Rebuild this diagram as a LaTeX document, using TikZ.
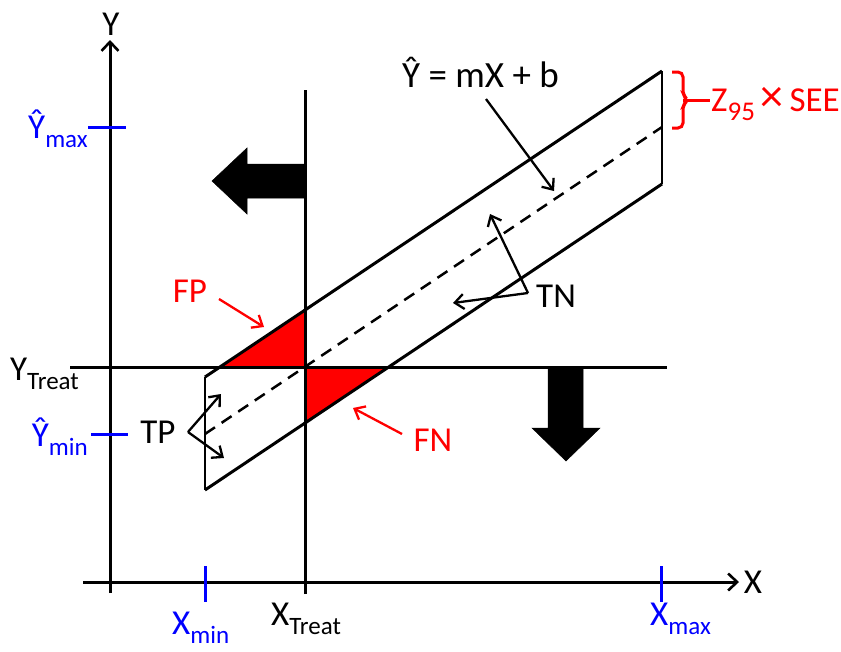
\documentclass[tikz,border=0pt]{standalone}
\usepackage{fontspec}
\setmainfont{Carlito}
\usetikzlibrary{arrows.meta}
\newcommand\lowsub[1]{\raisebox{-0.28em}{\fontsize{25}{25}\selectfont #1}}
\definecolor{pblue}{RGB}{0,0,255}
\definecolor{pred}{RGB}{255,0,0}
\begin{document}
\begin{tikzpicture}[x=1pt,y=-1pt,
  lbl/.style={font=\fontsize{35}{40}\selectfont, inner sep=0pt},
  axis/.style={line width=3pt, -{Straight Barb[length=9pt,width=17pt,line width=2.6pt]}},
  mainline/.style={line width=3pt},
  thinline/.style={line width=2pt},
  tickb/.style={line width=3pt, draw=pblue},
  pointer/.style={line width=2.3pt, -{Straight Barb[length=9pt,width=15pt,line width=2.3pt]}},
  bigarrow/.style={fill=black, draw=black, line width=0.5pt}]
\useasboundingbox (0,0) rectangle (841,651);
% key coordinates
\coordinate (UL) at (205,377);
\coordinate (UR) at (662,71);
\coordinate (LL) at (205,490);
\coordinate (LR) at (662,184);
\coordinate (CL) at (205,434);
\coordinate (CR) at (662,127);
% red triangles
\fill[pred] (220,367) -- (305,367) -- (305,310) -- cycle;
\fill[pred] (305,367) -- (388,367) -- (305,423) -- cycle;
% axes
\coordinate (yb) at (110,593);
\coordinate (yt) at (110,40);
\coordinate (xl) at (83,582);
\coordinate (xr) at (739,582);
\draw[axis] (yb) -- (yt);
\draw[axis] (xl) -- (xr);
\node[lbl] (Ylab) at (111,24) {Y};
\node[lbl] (Xlab) at (753,582) {X};
% treatment lines
\coordinate (tb) at (305,594);
\coordinate (tt) at (305,90);
\draw[mainline] (tb) -- (tt);
\coordinate (hl) at (70,367);
\coordinate (hr) at (667,367);
\draw[mainline] (hl) -- (hr);
% band
\draw[mainline] (UL) -- (UR);
\draw[mainline] (LL) -- (LR);
\draw[thinline] (UL) -- (LL);
\draw[thinline] (UR) -- (LR);
\draw[line width=2.5pt, dash pattern=on 12pt off 8pt] (CL) -- (CR);
% ticks
\coordinate (ymx1) at (88,127); \coordinate (ymx2) at (126,127);
\coordinate (ymn1) at (91,434); \coordinate (ymn2) at (128,434);
\coordinate (xmn1) at (205,566); \coordinate (xmn2) at (205,602);
\coordinate (xmx1) at (661,566); \coordinate (xmx2) at (661,602);
\draw[tickb] (ymx1) -- (ymx2);
\draw[tickb] (ymn1) -- (ymn2);
\draw[tickb] (xmn1) -- (xmn2);
\draw[tickb] (xmx1) -- (xmx2);
% labels
\node[lbl, text=pblue, anchor=base east] (ymaxlab) at (88,138) {Ŷ\lowsub{max}};
\node[lbl, text=pblue, anchor=base east] (yminlab) at (88,446) {Ŷ\lowsub{min}};
\node[lbl, anchor=base east] (ytreatlab) at (79,380) {Y\lowsub{Treat}};
\node[lbl, anchor=base west] (xtreatlab) at (271,625) {X\lowsub{Treat}};
\node[lbl, text=pblue, anchor=base west] (xminlab) at (172,634) {X\lowsub{min}};
\node[lbl, text=pblue, anchor=base west] (xmaxlab) at (650,625) {X\lowsub{max}};
% big arrows
\draw[bigarrow] (305,164) -- (247,164) -- (247,148) -- (212,181) -- (247,214) -- (247,198) -- (305,198) -- cycle;
\draw[bigarrow] (548,367) -- (583,367) -- (583,428) -- (600,428) -- (566,461) -- (532,428) -- (548,428) -- cycle;
% regression label
\node[lbl, anchor=base west, font=\fontsize{37}{40}\selectfont] (eq) at (402,87) {Ŷ = mX + b};
\coordinate (eqs) at (486,99);
\coordinate (eqe) at (554,191);
\draw[pointer] (eqs) -- (eqe);
% bracket
\coordinate (brm) at (683,100);
\coordinate (bre) at (710,100);
\draw[pred, line width=3pt, rounded corners=5pt] (672,72) -- (683,72) -- (683,95) -- (688,100) -- (683,105) -- (683,128) -- (672,128);
\draw[pred, line width=3pt] (brm) -- (bre);
\node[lbl, text=pred, anchor=base west] (zlab) at (711,111) {Z\raisebox{-0.28em}{\fontsize{27}{27}\selectfont 95}\,{\fontsize{46}{46}\selectfont ×}\,SEE};
% TN
\node[lbl, anchor=west] (tn) at (536,296) {TN};
\coordinate (tnv) at (528,293);
\coordinate (tn1) at (490,214);
\coordinate (tn2) at (453,303);
\draw[pointer] (tnv) -- (tn1);
\draw[pointer] (tnv) -- (tn2);
% TP
\node[lbl] (tp) at (158,432) {TP};
\coordinate (tpv) at (188,432);
\coordinate (tp1) at (221,394);
\coordinate (tp2) at (224,458);
\draw[pointer] (tpv) -- (tp1);
\draw[pointer] (tpv) -- (tp2);
% FP / FN
\node[lbl, text=pred] (fp) at (190,291) {FP};
\node[lbl, text=pred] (fn) at (433,440) {FN};
\coordinate (fps) at (219,299);
\coordinate (fpe) at (264,327);
\coordinate (fns) at (402,434);
\coordinate (fne) at (353,408);
\draw[pointer, draw=pred] (fps) -- (fpe);
\draw[pointer, draw=pred] (fns) -- (fne);
\end{tikzpicture}
\end{document}
